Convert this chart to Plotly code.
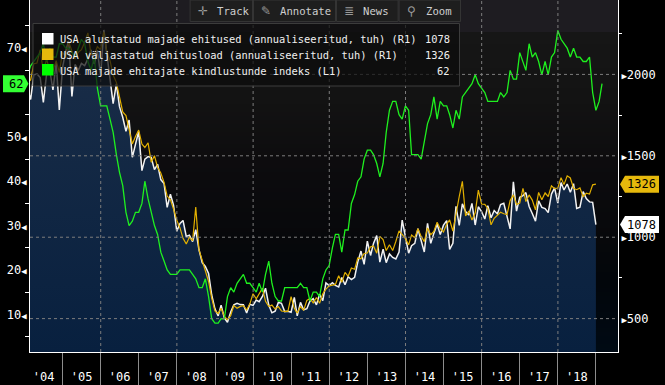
import plotly.graph_objects as go
import pandas as pd

# ---------------- data (monthly, Jan 2004 onward) ----------------
starts = [
    1911, 1846, 1998, 2003, 1981, 1828, 2002, 2024, 1905, 2072, 1782, 2042,
    2144, 2207, 1864, 2061, 2025, 2068, 2054, 2095, 2151, 2065, 2147, 1994,
    2273, 2119, 1969, 1821, 1942, 1802, 1737, 1650, 1720, 1491, 1570, 1649,
    1409, 1480, 1495, 1490, 1415, 1448, 1354, 1330, 1183, 1264, 1197, 1037,
    1084, 1103, 1005, 1013, 973, 1046, 923, 844, 820, 777, 645, 560,
    517, 582, 505, 478, 540, 585, 594, 586, 585, 534, 588, 581,
    614, 604, 636, 687, 583, 536, 546, 599, 594, 543, 545, 539,
    630, 517, 600, 554, 561, 608, 623, 585, 650, 611, 719, 703,
    720, 704, 695, 753, 708, 757, 740, 754, 847, 915, 833, 976,
    888, 962, 1010, 847, 926, 844, 897, 876, 866, 909, 1105, 1003,
    902, 948, 962, 1052, 984, 909, 1085, 962, 1025, 1081, 1016, 1074,
    1102, 925, 962, 1190, 1073, 1205, 1158, 1136, 1208, 1075, 1187, 1158,
    1112, 1193, 1120, 1164, 1143, 1201, 1208, 1136, 1051, 1340, 1160, 1245,
    1256, 1274, 1189, 1146, 1099, 1224, 1183, 1176, 1151, 1265, 1303, 1210,
    1336, 1290, 1327, 1276, 1329, 1177, 1184, 1280, 1237, 1217, 1214, 1078,
]
permits = [
    1952, 1966, 2066, 2070, 2150, 2017, 2094, 2022, 2020, 2085, 2013, 2136,
    2104, 2200, 2144, 2094, 2136, 2152, 2198, 2255, 2124, 2120, 2171, 2151,
    2262, 2136, 2086, 1996, 1951, 1852, 1770, 1747, 1669, 1573, 1619, 1658,
    1572, 1551, 1579, 1461, 1501, 1430, 1394, 1337, 1253, 1231, 1173, 1105,
    1057, 993, 959, 1000, 978, 1185, 924, 862, 797, 728, 626, 547,
    531, 564, 513, 494, 518, 580, 564, 575, 580, 553, 589, 653,
    622, 650, 687, 606, 574, 583, 559, 574, 547, 544, 544, 635,
    563, 534, 574, 551, 612, 624, 597, 630, 594, 653, 681, 701,
    704, 710, 764, 723, 784, 760, 811, 803, 872, 868, 900, 903,
    942, 946, 902, 1005, 985, 918, 954, 918, 974, 1039, 1017, 991,
    953, 1014, 997, 1052, 1005, 973, 1057, 1015, 1035, 1092, 1052, 1032,
    1081, 1106, 1038, 1151, 1250, 1343, 1130, 1161, 1105, 1150, 1289, 1204,
    1202, 1177, 1076, 1116, 1138, 1153, 1144, 1139, 1225, 1260, 1201, 1210,
    1300, 1219, 1260, 1228, 1168, 1275, 1230, 1272, 1250, 1316, 1298, 1302,
    1366, 1323, 1377, 1364, 1301, 1292, 1303, 1249, 1270, 1265, 1322, 1326,
]
builder_index = [
    64, 66, 67, 68, 69, 71, 67, 70, 68, 68, 71, 71,
    70, 70, 69, 68, 70, 72, 71, 67, 65, 68, 61, 57,
    57, 57, 54, 51, 46, 42, 39, 33, 30, 31, 33, 33,
    35, 40, 36, 33, 30, 28, 24, 22, 20, 19, 19, 19,
    20, 20, 20, 20, 19, 18, 16, 16, 18, 14, 9, 8,
    8, 9, 9, 14, 16, 15, 17, 18, 19, 17, 17, 16,
    15, 17, 15, 19, 22, 17, 14, 13, 13, 16, 16, 16,
    16, 16, 17, 16, 16, 13, 15, 15, 14, 18, 20, 21,
    25, 28, 28, 24, 29, 29, 35, 37, 40, 41, 45, 47,
    47, 46, 44, 41, 44, 51, 56, 58, 58, 55, 54, 57,
    56, 46, 46, 46, 45, 49, 53, 55, 59, 54, 58, 57,
    57, 55, 52, 56, 54, 59, 60, 61, 62, 64, 62, 61,
    60, 58, 58, 58, 58, 60, 59, 60, 65, 63, 63, 69,
    67, 65, 71, 68, 69, 67, 64, 67, 64, 68, 69, 74,
    72, 71, 70, 68, 70, 68, 68, 67, 67, 68, 60, 56,
    58, 62,
]
years = list(range(2004, 2019))
year_labels = ["'04", "'05", "'06", "'07", "'08", "'09", "'10", "'11",
               "'12", "'13", "'14", "'15", "'16", "'17", "'18"]
left_ticks = [10, 20, 30, 40, 50, 60, 70]
left_minor = [5, 15, 25, 35, 45, 55, 65, 75]
right_ticks = [500, 1000, 1500, 2000]
right_minor = [750, 1250, 1750, 2250]
series_names = [
    "USA alustatud majade ehitused (annualiseeritud, tuh) (R1)",
    "USA väljastatud ehitusload (annualiseeritud, tuh) (R1)",
    "USA majade ehitajate kindlustunde indeks (L1)",
]
toolbar_items = [("✛", "Track"), ("✎", "Annotate"), ("≣", "News"), ("⚲", "Zoom")]

# ---------------- styling ----------------
W, H = 665, 385
ML, MR, MT, MB = 30, 47, 0, 33
PW, PH = W - ML - MR, H - MT - MB
WHITE, YELLOW, GREEN = "#f2f2f2", "#e2b000", "#1ff01f"
FONT = "DejaVu Sans Mono"
LEG_SIZE = 10.4


def px(x):
    return (x - ML) / PW


def py(y):
    return (H - MB - y) / PH


dates_r = pd.date_range("2004-01-01", periods=len(starts), freq="MS") + pd.offsets.MonthEnd(0)
dates_l = pd.date_range("2004-01-01", periods=len(builder_index), freq="MS") + pd.offsets.MonthEnd(0)

fig = go.Figure()
fig.add_trace(go.Scatter(
    x=dates_r, y=starts, mode="lines", yaxis="y",
    line=dict(color=WHITE, width=1.5), fill="tozeroy",
    fillgradient=dict(type="vertical", start=295, stop=2300,
                      colorscale=[[0, "#08203f"], [1, "#1b2e48"]]),
    hoverinfo="skip"))
fig.add_trace(go.Scatter(
    x=dates_r, y=permits, mode="lines", yaxis="y",
    line=dict(color=YELLOW, width=1.2), hoverinfo="skip"))
fig.add_trace(go.Scatter(
    x=dates_l, y=builder_index, mode="lines", yaxis="y2",
    line=dict(color=GREEN, width=1.3), hoverinfo="skip"))

shapes = []
annotations = []

# background gradient bands (pixel y from top, colour)
stops = [(0, (30, 28, 33)), (33, (30, 28, 33)), (34, (22, 22, 22)), (100, (19, 19, 19)),
         (160, (13, 12, 14)), (240, (7, 8, 11)), (285, (2, 6, 11)), (352, (0, 10, 20))]
step = 4
for y0 in range(0, 352, step):
    yc = y0 + step / 2
    for (a, ca), (b, cb) in zip(stops[:-1], stops[1:]):
        if a <= yc <= b:
            t = (yc - a) / (b - a) if b > a else 0
            c = tuple(int(round(ca[i] + (cb[i] - ca[i]) * t)) for i in range(3))
            break
    shapes.append(dict(type="rect", xref="paper", yref="paper", x0=0, x1=1,
                       y0=py(y0 + step), y1=py(y0), layer="below",
                       fillcolor="rgb(%d,%d,%d)" % c, line=dict(width=0)))

# dashed grid (above traces, like reference)
grid = dict(color="#7d7d7d", width=1, dash="3px,3px")
for v in right_ticks:
    shapes.append(dict(type="line", xref="paper", yref="y", x0=0, x1=1, y0=v, y1=v,
                       line=grid, layer="above"))
for yr in years[2::2]:
    shapes.append(dict(type="line", xref="x", yref="paper", x0=f"{yr}-01-01",
                       x1=f"{yr}-01-01", y0=0, y1=1, line=grid, layer="above"))

# toolbar
seg_edges = [189.6, 253, 336, 398.6, 461]
for i, (icon, label) in enumerate(toolbar_items):
    x0, x1 = seg_edges[i], seg_edges[i + 1]
    shapes.append(dict(type="rect", xref="paper", yref="paper", x0=px(x0 + 0.5), x1=px(x1 - 0.5),
                       y0=py(21.5), y1=py(0), fillcolor="#1e1e1e",
                       line=dict(color="#343434", width=1), layer="above"))
    annotations.append(dict(x=px(x0 + 13), y=py(11), xref="paper", yref="paper", text=icon,
                            showarrow=False, xanchor="center", yanchor="middle",
                            font=dict(family="DejaVu Sans", size=12, color="#9a9a9a")))
    annotations.append(dict(x=px(x0 + 25), y=py(11), xref="paper", yref="paper", text=label,
                            showarrow=False, xanchor="left", yanchor="middle",
                            font=dict(family=FONT, size=10.6, color="#cfcfcf")))

# legend box
shapes.append(dict(type="rect", xref="paper", yref="paper", x0=px(33), x1=px(459.5),
                   y0=py(86), y1=py(23.5), fillcolor="rgba(12,12,12,0.72)",
                   line=dict(color="#3c3c3c", width=1), layer="above"))
row_y = [39.5, 55, 70.5]
sq_colors = ["#ffffff", "#e6b90c", "#00ff00"]
last_vals = [starts[-1], permits[-1], builder_index[-1]]
for i in range(3):
    shapes.append(dict(type="rect", xref="paper", yref="paper", x0=px(42), x1=px(53.5),
                       y0=py(row_y[i] + 5), y1=py(row_y[i] - 6.5), fillcolor=sq_colors[i],
                       line=dict(width=0), layer="above"))
    annotations.append(dict(x=px(57.5), y=py(row_y[i]), xref="paper", yref="paper",
                            text=series_names[i], showarrow=False, xanchor="left",
                            yanchor="middle", font=dict(family=FONT, size=LEG_SIZE, color="#f0f0f0")))
    annotations.append(dict(x=px(452), y=py(row_y[i]), xref="paper", yref="paper",
                            text=str(last_vals[i]), showarrow=False, xanchor="right",
                            yanchor="middle", font=dict(family=FONT, size=LEG_SIZE, color="#f0f0f0")))

# last-value flags on the axes
for val, col in [(permits[-1], "#e6b90c"), (starts[-1], "#ffffff")]:
    shapes.append(dict(type="path", xref="paper", yref="y", xsizemode="pixel", ysizemode="pixel",
                       xanchor=1, yanchor=val, path="M 2,0 L 7,8.5 L 41,8.5 L 41,-8.5 L 7,-8.5 Z",
                       fillcolor=col, line=dict(width=0), layer="above"))
    annotations.append(dict(x=px(641.5), y=val, xref="paper", yref="y", text=str(val),
                            showarrow=False, xanchor="center", yanchor="middle",
                            font=dict(family=FONT, size=12, color="black")))
gv = builder_index[-1]
shapes.append(dict(type="path", xref="paper", yref="y2", xsizemode="pixel", ysizemode="pixel",
                   xanchor=0, yanchor=gv, path="M -1.5,0 L -6,8.5 L -27,8.5 L -27,-8.5 L -6,-8.5 Z",
                   fillcolor="#33ff33", line=dict(width=0), layer="above"))
annotations.append(dict(x=px(15.5), y=gv, xref="paper", yref="y2", text=str(gv),
                        showarrow=False, xanchor="center", yanchor="middle",
                        font=dict(family=FONT, size=12, color="black")))

tri_r = "<span style='font-size:9px'>▶</span>"
tri_l = "<span style='font-size:9px'>◀</span>"
# the 60 label sits under the last-value flag of the index
left_text = ["" if v == 60 else str(v) + tri_l for v in left_ticks]

fig.update_layout(
    width=W, height=H, margin=dict(l=ML, r=MR, t=MT, b=MB, pad=0, autoexpand=False),
    paper_bgcolor="black", plot_bgcolor="#0c0c0c", showlegend=False,
    font=dict(family=FONT, color="white", size=12),
    xaxis=dict(type="date", range=["2004-02-23", "2019-07-31"], showgrid=False, zeroline=False,
               automargin=False,
               showline=True, linecolor="white", linewidth=1,
               tickmode="array", tickvals=[f"{y}-07-02" for y in years], ticktext=year_labels,
               ticks="", tickfont=dict(family=FONT, size=12, color="white"),
               ticklabelstandoff=14,
               minor=dict(tickmode="array", tickvals=[f"{y + 1}-01-01" for y in years],
                          ticks="outside", ticklen=33, tickcolor="#8c8c8c", tickwidth=1,
                          showgrid=False)),
    yaxis=dict(side="right", range=[295, 2457], showgrid=False, zeroline=False,
               automargin=False,
               showline=True, linecolor="white", linewidth=1,
               tickmode="array", tickvals=right_ticks,
               ticktext=[tri_r + str(v) for v in right_ticks], ticks="",
               tickfont=dict(family=FONT, size=12, color="white"),
               minor=dict(tickmode="array", tickvals=right_minor, ticks="outside",
                          ticklen=3, tickcolor="white", showgrid=False)),
    yaxis2=dict(overlaying="y", side="left", range=[1.5, 80.86], showgrid=False, zeroline=False,
                automargin=False,
                showline=True, linecolor="white", linewidth=1,
                tickmode="array", tickvals=left_ticks,
                ticktext=left_text, ticks="",
                tickfont=dict(family=FONT, size=12, color="white"),
                minor=dict(tickmode="array", tickvals=left_minor, ticks="outside",
                           ticklen=4, tickcolor="white", showgrid=False)),
    shapes=shapes, annotations=annotations,
)

fig.write_html("out.html", config={"displayModeBar": False},
               post_script="document.body.style.margin='0';document.body.style.background='black';")
